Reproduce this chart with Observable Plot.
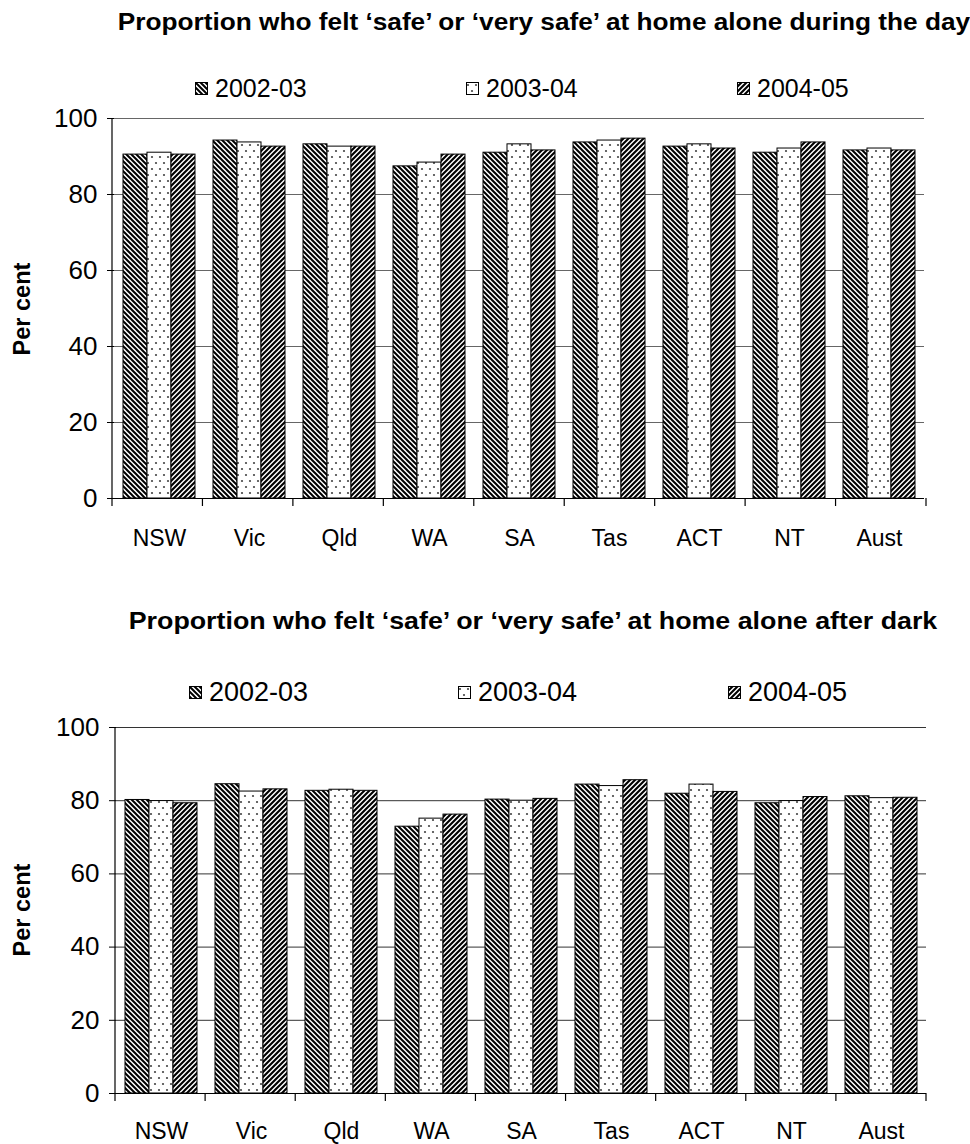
<!DOCTYPE html>
<html>
<head>
<meta charset="utf-8">
<script src="https://cdn.jsdelivr.net/npm/d3@7"></script>
<script src="https://cdn.jsdelivr.net/npm/@observablehq/plot@0.6"></script>
<style>
  body { margin: 0; background: #fff; font-family: "Liberation Sans", Arial, sans-serif; color: #000; }
  #page { position: relative; width: 970px; height: 1144px; overflow: hidden; }
  .title { position: absolute; font-weight: bold; font-size: 23px; line-height: 23px; white-space: nowrap; }
  .ylabel { position: absolute; font-weight: bold; font-size: 23.5px; line-height: 24px; white-space: nowrap; transform: translate(-50%, -50%) rotate(-90deg); }
  .legend-item { position: absolute; display: flex; align-items: center; height: 24px; line-height: 24px; white-space: nowrap; }
  .legend-item svg { margin-right: 7px; }
  .chart { position: absolute; left: 0; }
  .chart [aria-label="y-axis tick label"] { font-size: 26px; }
</style>
</head>
<body>
<div id="page"></div>
<script>
// ---------- data ----------
const states = ["NSW", "Vic", "Qld", "WA", "SA", "Tas", "ACT", "NT", "Aust"];
const periods = ["2002-03", "2003-04", "2004-05"];
const yTicks = [0, 20, 40, 60, 80, 100];

const titleDay = "Proportion who felt \u2018safe\u2019 or \u2018very safe\u2019 at home alone during the day";
const titleDark = "Proportion who felt \u2018safe\u2019 or \u2018very safe\u2019 at home alone after dark";
const yLabel = "Per cent";

const day0203 = [90.5, 94.2, 93.2, 87.4, 91.0, 93.7, 92.6, 91.0, 91.6];
const day0304 = [91.0, 93.7, 92.6, 88.4, 93.2, 94.2, 93.2, 92.1, 92.1];
const day0405 = [90.5, 92.6, 92.6, 90.5, 91.6, 94.7, 92.1, 93.7, 91.6];

const dark0203 = [80.2, 84.5, 82.7, 72.9, 80.3, 84.4, 81.9, 79.3, 81.2];
const dark0304 = [79.9, 82.5, 83.0, 75.1, 80.0, 84.0, 84.4, 79.9, 80.7];
const dark0405 = [79.3, 83.1, 82.7, 76.2, 80.5, 85.6, 82.4, 81.0, 80.8];

// ---------- patterns ----------
const page = d3.select("#page");
const defsSvg = page.append("svg").attr("width", 0).attr("height", 0)
  .style("position", "absolute").style("left", 0).style("top", 0);
const defs = defsSvg.append("defs");

// back-diagonal stripes "\"
const pA = defs.append("pattern").attr("id", "patA").attr("patternUnits", "userSpaceOnUse")
  .attr("width", 5).attr("height", 5);
pA.append("rect").attr("width", 5).attr("height", 5).attr("fill", "#fff");
pA.append("path").attr("d", "M-1,-1L6,6M-1,4L1,6M4,-1L6,1").attr("stroke", "#000").attr("stroke-width", 2);

// dots
const pB = defs.append("pattern").attr("id", "patB").attr("patternUnits", "userSpaceOnUse")
  .attr("width", 8).attr("height", 12);
pB.append("rect").attr("width", 8).attr("height", 12).attr("fill", "#fff");
pB.append("circle").attr("cx", 2).attr("cy", 3).attr("r", 1.1).attr("fill", "#444");
pB.append("circle").attr("cx", 6).attr("cy", 9).attr("r", 1.1).attr("fill", "#444");

// forward-diagonal stripes "/"
const pC = defs.append("pattern").attr("id", "patC").attr("patternUnits", "userSpaceOnUse")
  .attr("width", 5).attr("height", 5);
pC.append("rect").attr("width", 5).attr("height", 5).attr("fill", "#fff");
pC.append("path").attr("d", "M-1,6L6,-1M-1,1L1,-1M4,6L6,4").attr("stroke", "#000").attr("stroke-width", 2.1);

const patternUrls = ["url(#patA)", "url(#patB)", "url(#patC)"];

// ---------- helpers ----------
function addText(cls, text, style) {
  const d = page.append("div").attr("class", cls).text(text);
  for (const k in style) d.style(k, style[k]);
  return d;
}

function addLegend(xs, cy, fontSize) {
  periods.forEach((p, i) => {
    const item = page.append("div").attr("class", "legend-item")
      .style("left", xs[i] + "px").style("top", (cy - 12) + "px").style("font-size", fontSize + "px");
    const sw = item.append("svg").attr("width", 13).attr("height", 13);
    sw.append("rect").attr("x", 0.5).attr("y", 0.5).attr("width", 12).attr("height", 12)
      .attr("fill", patternUrls[i]).attr("stroke", "#000").attr("stroke-width", 1);
    item.append("span").text(p);
  });
}

function makeChart(series, o) {
  const table = states.flatMap((s, i) => periods.map((p, j) => ({state: s, period: p, value: series[j][i]})));
  const chart = Plot.plot({
    width: 970,
    height: o.height,
    marginTop: o.mt, marginBottom: o.mb, marginLeft: o.ml, marginRight: o.mr,
    style: {fontFamily: "'Liberation Sans', Arial, sans-serif", fontSize: "23px", color: "#000", background: "transparent", overflow: "visible"},
    fx: {domain: states, padding: 0, axis: "bottom", tickSize: 0, tickPadding: o.labelPad, label: null},
    x: {domain: periods, axis: null, paddingInner: 0, paddingOuter: 0.375},
    y: {domain: [0, 100], ticks: yTicks, tickSize: 7, tickPadding: 10, label: null, tickFormat: d => String(d)},
    color: {type: "ordinal", domain: periods, range: patternUrls},
    marks: [
      Plot.gridY(yTicks, {stroke: o.grid, strokeOpacity: 1, strokeWidth: 1}),
      Plot.barY(table, {fx: "state", x: "period", y: "value", fill: "period", stroke: "#000", strokeWidth: 1}),
      Plot.ruleY([0], {stroke: "#000", strokeWidth: 1.2})
    ]
  });
  // axis line and category boundary ticks, from the chart's own scales
  const fx = chart.scale("fx");
  const ys = chart.scale("y");
  const band = d3.scaleBand(fx.domain, fx.range);
  const edges = states.map(s => band(s)).concat([band(states[states.length - 1]) + band.bandwidth()]);
  const y0 = ys.apply(0), y100 = ys.apply(100);
  const svg = d3.select(chart);
  const g = svg.append("g").attr("stroke", "#000").attr("stroke-width", 1.2);
  g.append("line").attr("x1", edges[0]).attr("x2", edges[0]).attr("y1", y0).attr("y2", y100);
  edges.forEach(x => g.append("line").attr("x1", x).attr("x2", x).attr("y1", y0).attr("y2", y0 + 8));
  const node = page.node().appendChild(chart);
  d3.select(node).attr("class", "chart").style("top", o.top + "px");
  return chart;
}

// ---------- top chart ----------
addText("title", titleDay, {left: "544px", top: "11px", transform: "translateX(-50%) scaleX(1.14)"});
addLegend([195, 466, 737], 88, 25);
makeChart([day0203, day0304, day0405], {top: 100, height: 470, mt: 18, mb: 72, ml: 112, mr: 44, labelPad: 31, grid: "#666"});
addText("ylabel", yLabel, {left: "22px", top: "309px"});

// ---------- bottom chart ----------
addText("title", titleDark, {left: "533px", top: "610px", transform: "translateX(-50%) scaleX(1.165)"});
addLegend([189, 458, 728], 692, 27);
makeChart([dark0203, dark0304, dark0405], {top: 709, height: 434, mt: 18, mb: 50, ml: 115, mr: 44, labelPad: 29, grid: "#333"});
addText("ylabel", yLabel, {left: "22px", top: "910px"});
</script>
</body>
</html>
